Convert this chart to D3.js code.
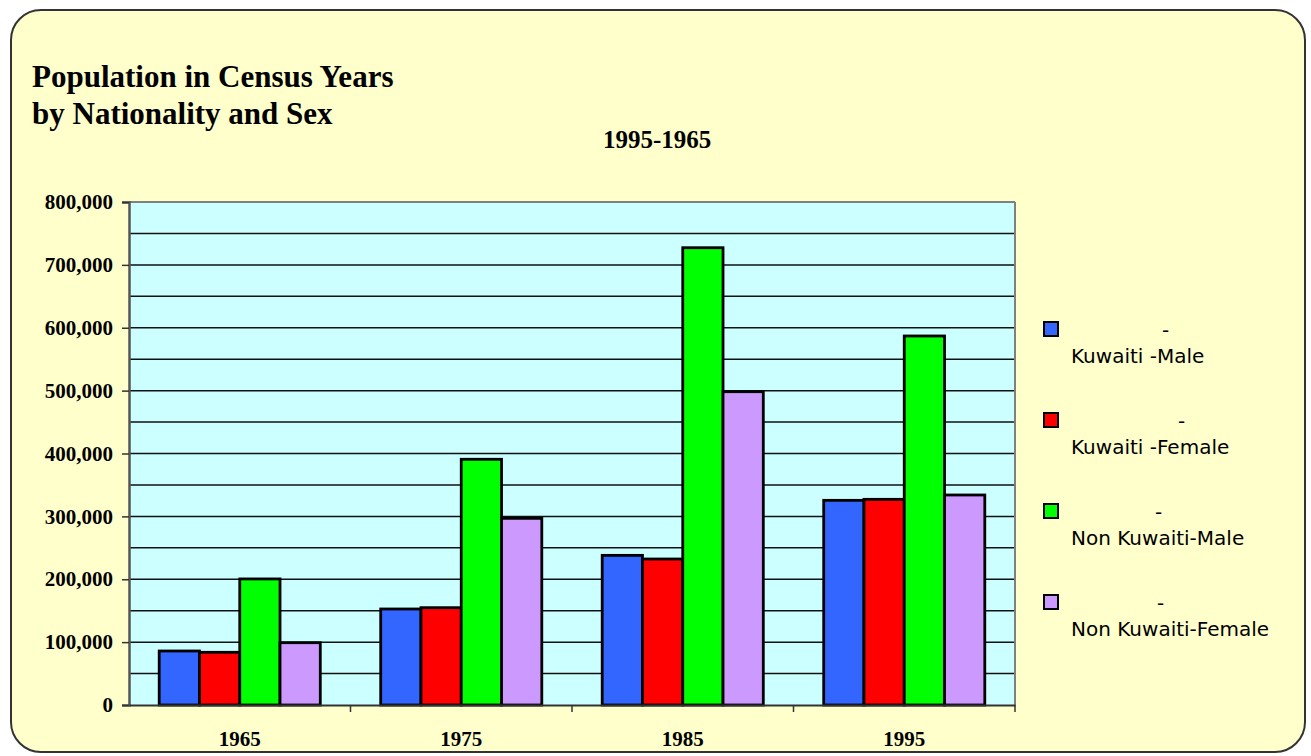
<!DOCTYPE html>
<html>
<head>
<meta charset="utf-8">
<script src="https://cdn.jsdelivr.net/npm/d3@7"></script>
<style>
  html, body { margin: 0; padding: 0; background: #ffffff; }
  svg { display: block; }
</style>
</head>
<body>
<div id="chart"></div>
<script>
var years = ['1965', '1975', '1985', '1995'];
var seriesNames = ['Kuwaiti -Male', 'Kuwaiti -Female', 'Non Kuwaiti-Male', 'Non Kuwaiti-Female'];
var kuwaitiMale = [85900, 152700, 238000, 325500];
var kuwaitiFemale = [83800, 154800, 232200, 327100];
var nonKuwaitiMale = [200500, 390800, 727300, 586900];
var nonKuwaitiFemale = [99100, 296900, 498300, 334000];
var yTickValues = [0, 100000, 200000, 300000, 400000, 500000, 600000, 700000, 800000];
var colors = ['#3366FF', '#FF0000', '#00FF00', '#CC99FF'];

var seriesValues = [kuwaitiMale, kuwaitiFemale, nonKuwaitiMale, nonKuwaitiFemale];

var width = 1311, height = 756;
var margin = { top: 202, right: 296, bottom: 51, left: 129 };
var chart_width = width - margin.left - margin.right;
var chart_height = height - margin.top - margin.bottom;

var serif = '"Liberation Serif", "Times New Roman", serif';

var svg = d3.select('#chart').append('svg')
    .attr('width', width)
    .attr('height', height);

// outer rounded frame
svg.append('rect')
    .attr('x', 11).attr('y', 10)
    .attr('width', 1294).attr('height', 742)
    .attr('rx', 30).attr('ry', 30)
    .style('fill', '#FFFFCC')
    .style('stroke', '#333333')
    .style('stroke-width', 2);

// titles
var title = svg.append('text')
    .style('font-family', serif)
    .style('font-weight', 'bold')
    .style('font-size', '31px')
    .style('fill', '#000');
title.append('tspan').attr('x', 32).attr('y', 87).text('Population in Census Years');
title.append('tspan').attr('x', 32).attr('y', 124).text('by Nationality and Sex');

svg.append('text')
    .attr('x', 603).attr('y', 148)
    .style('font-family', serif)
    .style('font-weight', 'bold')
    .style('font-size', '25px')
    .text('1995-1965');

var g = svg.append('g')
    .attr('transform', 'translate(' + margin.left + ',' + margin.top + ')');

var y = d3.scaleLinear().domain([0, 800000]).range([chart_height, 0]);
var x0 = d3.scaleBand().domain(years).range([0, chart_width]);
var barW = x0.bandwidth() / 5.5;
var x1 = d3.scaleBand().domain(d3.range(seriesNames.length))
    .range([barW * 0.75, barW * 0.75 + barW * 4]);

// plot background
g.append('rect')
    .attr('width', chart_width)
    .attr('height', chart_height)
    .style('fill', '#CCFFFF');

// gridlines every 50,000
g.selectAll('.grid')
    .data(y.ticks(16).filter(function(d) { return d > 0 && d < 800000; }))
    .enter().append('line')
    .attr('x1', 0).attr('x2', chart_width)
    .attr('y1', function(d) { return y(d); })
    .attr('y2', function(d) { return y(d); })
    .style('stroke', '#111')
    .style('stroke-width', 1.5);

// plot border top/right
g.append('line').attr('x1', 0).attr('x2', chart_width).attr('y1', 0).attr('y2', 0)
    .style('stroke', '#808080').style('stroke-width', 2);
g.append('line').attr('x1', chart_width).attr('x2', chart_width).attr('y1', 0).attr('y2', chart_height)
    .style('stroke', '#808080').style('stroke-width', 2);

// bars
var groups = g.selectAll('.year')
    .data(years)
    .enter().append('g')
    .attr('transform', function(d) { return 'translate(' + x0(d) + ',0)'; });

groups.selectAll('rect')
    .data(function(d, i) { return seriesValues.map(function(s, k) { return { k: k, v: s[i] }; }); })
    .enter().append('rect')
    .attr('x', function(d) { return x1(d.k); })
    .attr('width', x1.bandwidth())
    .attr('y', function(d) { return y(d.v); })
    .attr('height', function(d) { return chart_height - y(d.v); })
    .style('fill', function(d) { return colors[d.k]; })
    .style('stroke', '#000')
    .style('stroke-width', 2.8);

// y axis
var yAxis = g.append('g')
    .call(d3.axisLeft(y).tickValues(yTickValues).tickSize(7).tickPadding(9)
        .tickFormat(d3.format(',')));
yAxis.select('.domain').style('stroke', '#555').style('stroke-width', 2.5);
yAxis.selectAll('.tick line').style('stroke', '#333').style('stroke-width', 1.5);
yAxis.selectAll('text')
    .style('font-family', serif)
    .style('font-weight', 'bold')
    .style('font-size', '21px')
    .style('fill', '#000');

// x axis
var xAxis = g.append('g')
    .attr('transform', 'translate(0,' + chart_height + ')')
    .call(d3.axisBottom(x0).tickSize(0).tickPadding(26));
xAxis.select('.domain').style('stroke', '#333').style('stroke-width', 2);
xAxis.selectAll('text')
    .style('font-family', serif)
    .style('font-weight', 'bold')
    .style('font-size', '21px')
    .style('fill', '#000');
xAxis.selectAll('.sep')
    .data(years)
    .enter().append('line')
    .attr('x1', function(d) { return x0(d) + x0.bandwidth(); })
    .attr('x2', function(d) { return x0(d) + x0.bandwidth(); })
    .attr('y1', 0).attr('y2', 7)
    .style('stroke', '#333').style('stroke-width', 1.5);

// legend
var dashX = [1162, 1178, 1155, 1157];
var legend = svg.selectAll('.legend')
    .data(seriesNames)
    .enter().append('g')
    .attr('transform', function(d, i) { return 'translate(0,' + (i * 91) + ')'; });

legend.append('rect')
    .attr('x', 1044).attr('y', 322)
    .attr('width', 14).attr('height', 14)
    .style('fill', function(d, i) { return colors[i]; })
    .style('stroke', '#000')
    .style('stroke-width', 2);

legend.append('text')
    .attr('x', function(d, i) { return dashX[i]; })
    .attr('y', 337)
    .style('font-family', '"DejaVu Sans", Verdana, sans-serif')
    .style('font-size', '20px')
    .text('-');

legend.append('text')
    .attr('x', 1071).attr('y', 363)
    .style('font-family', '"DejaVu Sans", Verdana, sans-serif')
    .style('font-size', '20px')
    .style('fill', '#000')
    .text(function(d) { return d; });
</script>
</body>
</html>
